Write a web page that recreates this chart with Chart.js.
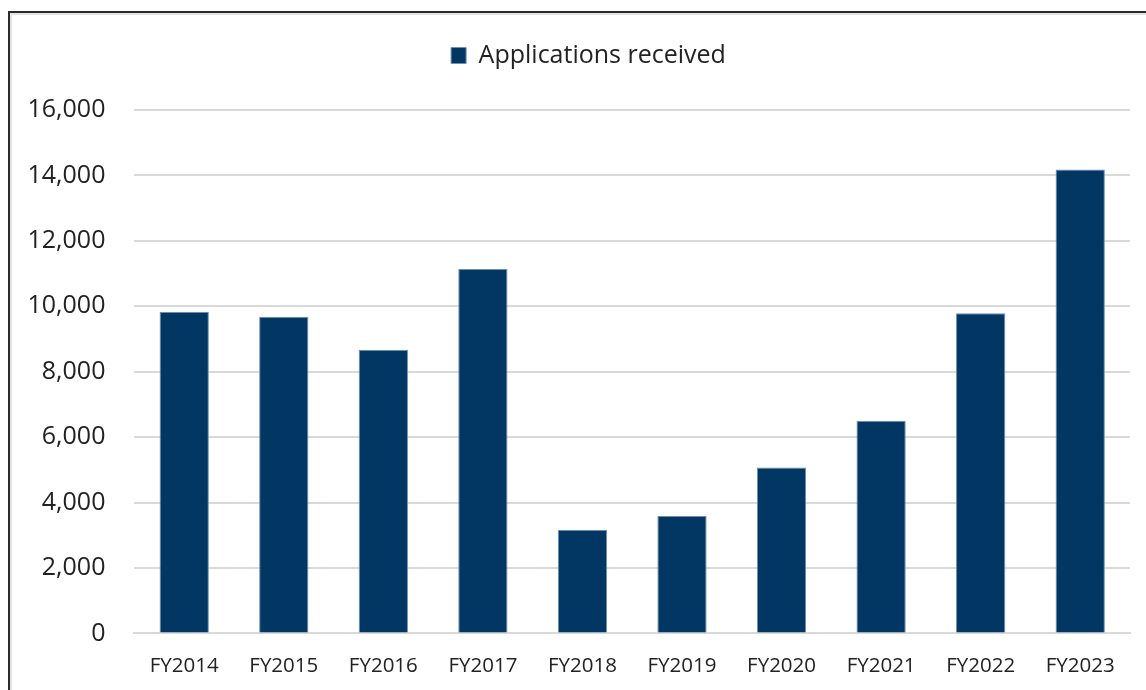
<!DOCTYPE html>
<html>
<head>
<meta charset="utf-8">
<script src="https://cdn.jsdelivr.net/npm/chart.js@4"></script>
<style>
  html, body { margin: 0; padding: 0; background: #fff; width: 1146px; height: 690px; overflow: hidden; }
  #frame { position: absolute; left: 8px; top: 11px; width: 1200px; height: 760px; border: 2px solid #2b2b2b; box-shadow: inset 2px 2px 0 #e3e3e3; box-sizing: border-box; }
  #wrap { position: absolute; left: 0; top: 0; width: 1146px; height: 690px; }
</style>
</head>
<body>
<div id="frame"></div>
<div id="wrap"><canvas id="c" width="1146" height="690"></canvas></div>
<script>
const categories = ["FY2014","FY2015","FY2016","FY2017","FY2018","FY2019","FY2020","FY2021","FY2022","FY2023"];
const applicationsReceived = [9830, 9680, 8670, 11140, 3170, 3590, 5070, 6500, 9790, 14180];
const seriesLabel = "Applications received";
const yTicks = [0, 2000, 4000, 6000, 8000, 10000, 12000, 14000, 16000];

const legendSpacer = {
  id: 'legendSpacer',
  beforeInit(chart) {
    const origFit = chart.legend.fit;
    chart.legend.fit = function () {
      origFit.bind(chart.legend)();
      this.height += 32;
    };
  },
  afterLayout(chart) {
    const lg = chart.legend;
    const target = 588.5;
    const cur = (lg.left + lg.right) / 2;
    const d = target - cur;
    lg.left += d; lg.right += d;
  }
};

new Chart(document.getElementById('c'), {
  type: 'bar',
  data: {
    labels: categories,
    datasets: [{
      label: seriesLabel,
      data: applicationsReceived,
      backgroundColor: '#023764',
      borderColor: '#6f8fae',
      borderWidth: 1,
      categoryPercentage: 1.0,
      barPercentage: 0.495
    }]
  },
  options: {
    responsive: false,
    animation: false,
    devicePixelRatio: 1,
    layout: { padding: { left: -1.5, right: 16, top: 33, bottom: -8 } },
    plugins: {
      legend: {
        position: 'top',
        labels: {
          color: '#222',
          font: { family: 'Open Sans', size: 25 },
          boxWidth: 15,
          boxHeight: 16,
          padding: 10
        }
      },
      tooltip: { enabled: false }
    },
    scales: {
      x: {
        grid: { display: false, drawTicks: false },
        border: { display: true, color: '#d9d9d9', width: 2 },
        ticks: { color: '#222', font: { family: 'Open Sans', size: 20.5 }, padding: 20, maxRotation: 0 }
      },
      y: {
        min: 0,
        max: 16000,
        afterBuildTicks(scale) { scale.ticks = yTicks.map(v => ({ value: v })); },
        grid: { color: '#d9d9d9', lineWidth: 2, drawTicks: false },
        border: { display: false },
        ticks: {
          color: '#222',
          font: { family: 'Open Sans', size: 25 },
          padding: 29,
          callback: v => v.toLocaleString('en-US')
        }
      }
    }
  },
  plugins: [legendSpacer]
});
</script>
</body>
</html>
